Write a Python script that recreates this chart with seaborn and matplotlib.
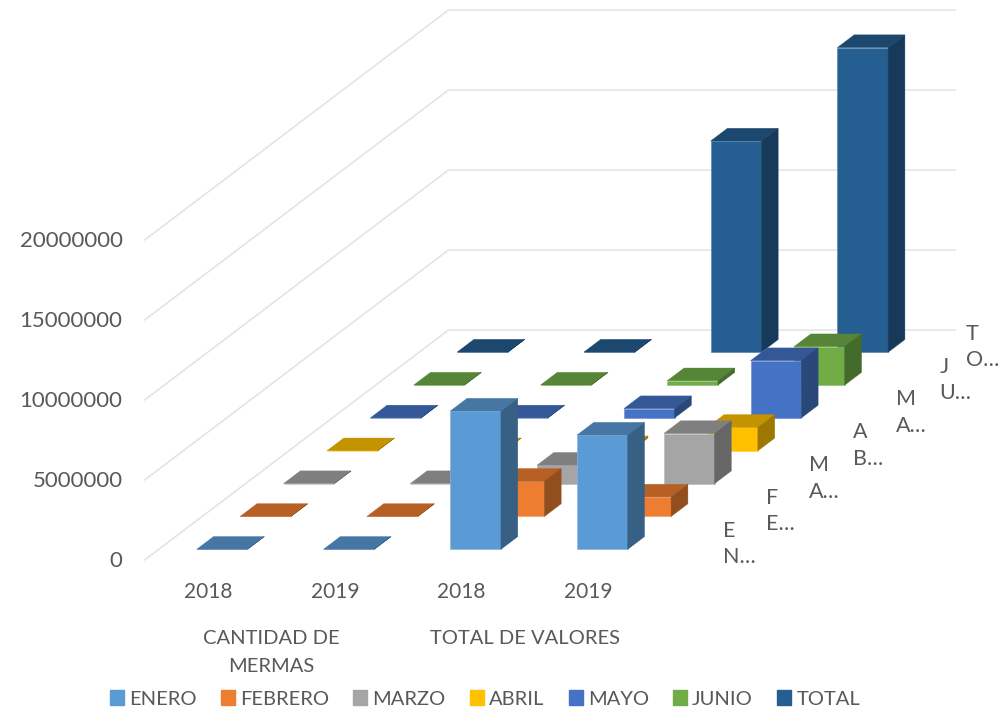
import matplotlib
matplotlib.use('Agg')
import matplotlib.pyplot as plt
import seaborn as sns
import numpy as np
from matplotlib.patches import Patch
from matplotlib.transforms import Affine2D

# datos
meses = ['ENERO', 'FEBRERO', 'MARZO', 'ABRIL', 'MAYO', 'JUNIO', 'TOTAL']
anios = ['2018', '2019', '2018', '2019']
grupos = ['CANTIDAD DE\nMERMAS', 'TOTAL DE VALORES']
colores = ['#5B9BD5', '#ED7D31', '#A5A5A5', '#FFC000', '#4472C4', '#70AD47', '#255E91']
ticks = [0, 5000000, 10000000, 15000000, 20000000]

enero = [2100, 1900, 8640000, 7140000]
febrero = [1500, 1200, 2200000, 1220000]
marzo = [1000, 1300, 1150000, 3130000]
abril = [800, 900, 130000, 1460000]
mayo = [1200, 1400, 580000, 3580000]
junio = [1100, 1000, 270000, 2400000]
total = [7700, 7700, 13200000, 19040000]
series = [enero, febrero, marzo, abril, mayo, junio, total]

sns.set_theme(style='white')
plt.rcParams['font.family'] = ['Lato', 'DejaVu Sans']
gris = '#595959'

fig = plt.figure(figsize=(10.08, 7.11), dpi=100)
ax = fig.add_axes([0, 0, 1, 1])

# escala: 126.75 px por grupo, 62500 por px
px_x = 1 / 126.75
px_y = 62500
paso_x = 43.4 * px_x
paso_y = 32.85 * px_y
frente = 0.325
fondo = 0.387
ancho = 50.7 * px_x
n_filas = 7


def px(n):
    return n * 72 / 100


# rejilla
for v in ticks:
    xs = [-0.5, -0.5 + n_filas * paso_x, 3.5 + n_filas * paso_x]
    ys = [v, v + n_filas * paso_y, v + n_filas * paso_y]
    ax.plot(xs, ys, color='#E2E2E2', lw=1.1, zorder=0)
    ax.annotate(str(v), (-0.5, v), xytext=(px(-22), px(-1)), textcoords='offset points',
                ha='right', va='center', color=gris, fontsize=16)

# barras, de atras hacia adelante
for fila in range(n_filas - 1, -1, -1):
    valores = series[fila]
    color = np.array(matplotlib.colors.to_rgb(colores[fila]))
    z = 10 - fila
    d = fila + frente
    tr = Affine2D().translate(d * paso_x, d * paso_y) + ax.transData
    borde = tuple(color + (1 - color) * 0.25)
    sns.barplot(x=list(range(4)), y=valores, native_scale=True, width=ancho,
                color=colores[fila], saturation=1, errorbar=None, ax=ax,
                transform=tr, zorder=z, edgecolor=borde, linewidth=0.5)
    for g, v in enumerate(valores):
        x0 = g - ancho / 2 + d * paso_x
        x1 = x0 + ancho
        y0 = d * paso_y
        y1 = y0 + v
        ox = fondo * paso_x
        oy = fondo * paso_y
        # cara superior y lateral
        ax.fill([x0, x1, x1 + ox, x0 + ox], [y1, y1, y1 + oy, y1 + oy],
                color=tuple(color * 0.77), lw=0.3, zorder=z)
        ax.fill([x1, x1 + ox, x1 + ox, x1], [y0, y0 + oy, y1 + oy, y1],
                color=tuple(color * 0.62), lw=0.3, zorder=z)

# etiquetas de los ejes
for g, anio in enumerate(anios):
    ax.annotate(anio, (g, 0), xytext=(0, px(-32)), textcoords='offset points',
                ha='center', va='center', color=gris, fontsize=15)
for g, grupo in zip([0.5, 2.5], grupos):
    ax.annotate(grupo, (g, 0), xytext=(0, px(-70)), textcoords='offset points',
                ha='center', va='top', color=gris, fontsize=14.5, linespacing=1.75)
for fila, mes in enumerate(meses):
    etiqueta = mes[0] + '\n' + mes[1] + '…'
    # la ultima etiqueta queda pegada al borde del grafico
    dx = 71 if mes != 'TOTAL' else 54
    ax.annotate(etiqueta, (3.5 + fila * paso_x, fila * paso_y), xytext=(px(dx), px(16)),
                textcoords='offset points', ha='left', va='center', color=gris,
                fontsize=15.5, linespacing=1.4)

handles = [Patch(color=c, label=m) for c, m in zip(colores, meses)]
ax.legend(handles=handles, ncol=7, frameon=False, loc='center', fontsize=14.5,
          bbox_to_anchor=(485 / 1008, 1 - 699 / 711), handlelength=0.7, handleheight=0.7,
          handletextpad=0.25, columnspacing=1.2, labelcolor=gris, borderpad=0)

ax.set_xlim(-208 * px_x, (1008 - 208) * px_x)
ax.set_ylim(-151 * px_y, 560 * px_y)
ax.axis('off')

fig.savefig('out.png', dpi=100)
